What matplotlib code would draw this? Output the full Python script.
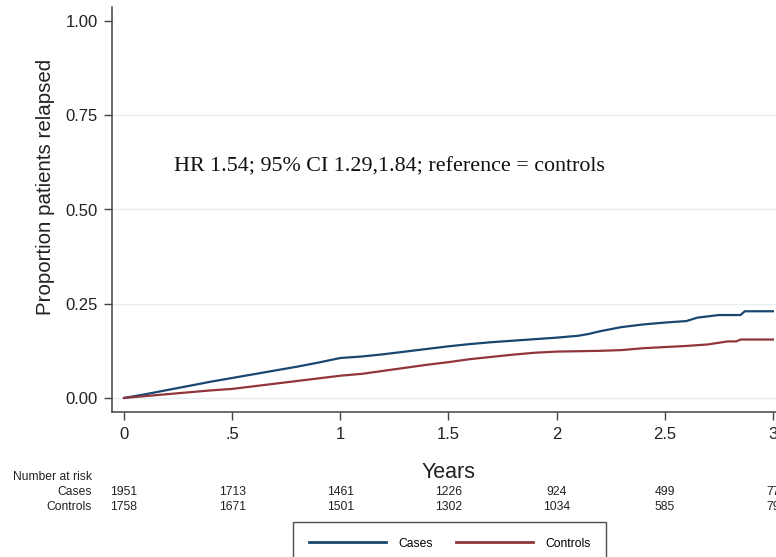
import matplotlib
matplotlib.use('Agg')
import matplotlib.pyplot as plt
import matplotlib.transforms as mtransforms

# cumulative proportion relapsed
cases_t = [0, .1, .2, .3, .4, .5, .6, .7, .8, .9, 1.0, 1.1, 1.2, 1.3, 1.4, 1.5, 1.6, 1.7,
           1.8, 1.9, 2.0, 2.1, 2.15, 2.2, 2.3, 2.4, 2.5, 2.6, 2.65, 2.75, 2.85, 2.87, 3.0]
cases_v = [0, .010, .021, .032, .043, .053, .063, .073, .083, .094, .106, .110, .116, .123,
           .130, .137, .143, .148, .152, .156, .160, .165, .170, .177, .188, .195, .200, .204,
           .213, .220, .220, .230, .230]
controls_t = [0, .1, .2, .3, .4, .5, .6, .7, .8, .9, 1.0, 1.1, 1.2, 1.3, 1.4, 1.5, 1.6, 1.7,
              1.8, 1.9, 2.0, 2.1, 2.2, 2.3, 2.4, 2.5, 2.6, 2.7, 2.79, 2.83, 2.85, 3.0]
controls_v = [0, .005, .010, .015, .020, .024, .031, .038, .045, .052, .059, .064, .072, .080,
              .088, .095, .103, .109, .115, .120, .123, .124, .125, .127, .132, .135, .138,
              .142, .150, .150, .155, .155]

risk_times = [0, .5, 1, 1.5, 2, 2.5, 3]
risk_cases = [1951, 1713, 1461, 1226, 924, 499, 77]
risk_controls = [1758, 1671, 1501, 1302, 1034, 585, 79]

xticks = [0, .5, 1, 1.5, 2, 2.5, 3]
xticklabels = ['0', '.5', '1', '1.5', '2', '2.5', '3']
yticks = [0, .25, .5, .75, 1]
yticklabels = ['0.00', '0.25', '0.50', '0.75', '1.00']

navy = '#1a476f'
maroon = '#90353b'
W, H = 776, 557

plt.rcParams['font.family'] = ['Liberation Sans', 'DejaVu Sans']

fig = plt.figure(figsize=(W / 100, H / 100), dpi=100)
fig.patch.set_facecolor('white')
ax = fig.add_axes([111.7 / W, 1 - 411.9 / H, 674.2 / W, 404.8 / H])

for g in [0, .25, .5, .75]:
    ax.axhline(g, color='#e6eef0', lw=1, zorder=0)

ax.plot(cases_t, cases_v, color=navy, lw=1.6, label='Cases')
ax.plot(controls_t, controls_v, color=maroon, lw=1.6, label='Controls')

ax.set_xlim(-0.057, 3.06)
ax.set_ylim(-0.037, 1.037)
ax.set_xticks(xticks)
ax.set_xticklabels(xticklabels)
ax.set_yticks(yticks)
ax.set_yticklabels(yticklabels)
ax.tick_params(axis='both', labelsize=12, length=6, width=1, color='#444444',
               labelcolor='#222222')
ax.tick_params(axis='y', pad=4)
ax.tick_params(axis='x', pad=5)
for s in ['top', 'right']:
    ax.spines[s].set_visible(False)
for s in ['left', 'bottom']:
    ax.spines[s].set_color('#444444')
    ax.spines[s].set_linewidth(1.1)

ax.set_ylabel('Proportion patients relapsed', fontsize=14.8, color='#222222')
ax.yaxis.set_label_coords(-0.084, 0.556)
ax.set_xlabel('Years', fontsize=15.5, color='#222222', labelpad=14)

ax.text(0.23, 0.613, 'HR 1.54; 95% CI 1.29,1.84; reference = controls',
        fontfamily=['Liberation Serif'], fontsize=15.8, ha='left', va='center', color='#111111')

# number at risk table
trans = mtransforms.blended_transform_factory(ax.transData, fig.transFigure)
fig.text(13 / W, 1 - 477 / H, 'Number at risk', fontsize=8.7, ha='left', va='center', color='#222222')
fig.text(92 / W, 1 - 492 / H, 'Cases', fontsize=8.7, ha='right', va='center', color='#222222')
fig.text(92 / W, 1 - 507 / H, 'Controls', fontsize=8.7, ha='right', va='center', color='#222222')
for t, a, b in zip(risk_times, risk_cases, risk_controls):
    fig.text(t, 1 - 492 / H, str(a), transform=trans, fontsize=8.7, ha='center', va='center', color='#222222')
    fig.text(t, 1 - 507 / H, str(b), transform=trans, fontsize=8.7, ha='center', va='center', color='#222222')

leg = fig.legend(loc='upper center', bbox_to_anchor=(449.5 / W, 1 - 522 / H), ncol=2,
                 fontsize=8.7, frameon=True, fancybox=False, edgecolor='#222222',
                 handlelength=6.4, handletextpad=1.0, columnspacing=1.9, borderpad=1.3,
                 borderaxespad=0)
leg.get_frame().set_linewidth(1)
for line in leg.get_lines():
    line.set_linewidth(2)

fig.savefig('out.png', dpi=100, facecolor='white')
